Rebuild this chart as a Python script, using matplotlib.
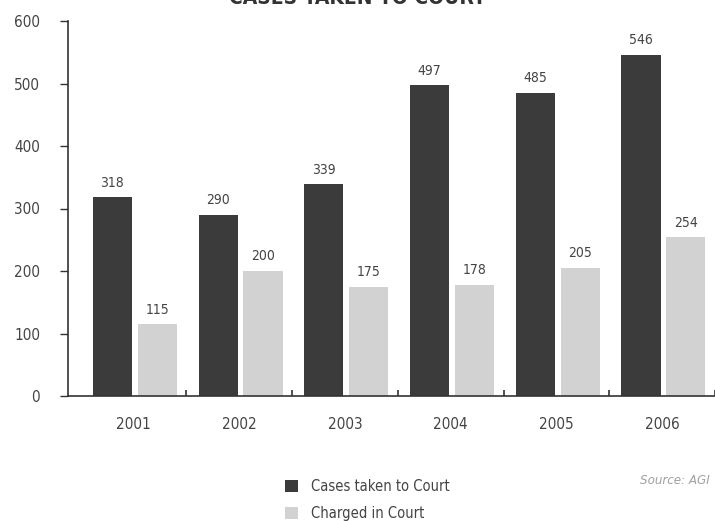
import matplotlib
matplotlib.use("Agg")
import matplotlib.pyplot as plt
from matplotlib import font_manager
import numpy as np

years = ["2001", "2002", "2003", "2004", "2005", "2006"]
taken = [318, 290, 339, 497, 485, 546]
charged = [115, 200, 175, 178, 205, 254]
series_names = ["Cases taken to Court", "Charged in Court"]

names = {f.name for f in font_manager.fontManager.ttflist}
narrow = [n for n in ("Liberation Sans Narrow", "DejaVu Sans") if n in names]
plt.rcParams["font.family"] = narrow + ["DejaVu Sans"]
plt.rcParams["font.stretch"] = "condensed"
print(sorted(n for n in names if "Narrow" in n or "Condensed" in n))
TXT = "#444444"

fig = plt.figure(figsize=(7.15, 5.21), dpi=100)
ax = fig.add_axes([68 / 715, 125 / 521, (715 - 68) / 715, 375 / 521])

x = np.arange(len(years))
w = 0.37
b1 = ax.bar(x - 0.2, taken, w, color="#3b3b3b")
b2 = ax.bar(x + 0.225, charged, w, color="#d2d2d2")

for bars, vals in ((b1, taken), (b2, charged)):
    for r, v in zip(bars, vals):
        ax.text(r.get_x() + r.get_width() / 2, v + 12, str(v),
                ha="center", va="bottom", fontsize=10, color=TXT)

ax.set_xlim(-0.62, 5.5)
ax.set_ylim(0, 600)
ax.set_yticks(range(0, 601, 100))
ax.tick_params(axis="y", direction="out", length=6, width=1, colors="#333333",
               labelcolor=TXT, labelsize=11, pad=14)
# year labels under the groups, small ticks between groups
ax.set_xticks(x + 0.5, minor=False)
ax.set_xticklabels([])
ax.tick_params(axis="x", which="major", direction="in", length=4, width=1.2,
               colors="#333333")
ax.set_xticks(x, minor=True)
ax.set_xticklabels(years, minor=True)
ax.tick_params(axis="x", which="minor", length=0, pad=15, labelsize=11,
               labelcolor=TXT)
for s in ("top", "right"):
    ax.spines[s].set_visible(False)
for s in ("left", "bottom"):
    ax.spines[s].set_color("#333333")
    ax.spines[s].set_linewidth(1.2)

fig.text(0.5, 1 - 4 / 521, "CASES TAKEN TO COURT", ha="center", va="baseline",
         fontsize=15, weight="bold", color="#333333")

fig.legend([b1, b2], series_names, loc="upper left",
           bbox_to_anchor=(272 / 715, 1 - 466 / 521), frameon=False,
           handlelength=0.9, handleheight=0.9, handletextpad=0.9,
           labelspacing=0.8, fontsize=10.5, labelcolor=TXT)
fig.text(710 / 715, 1 - 480 / 521, "Source: AGI", ha="right", va="center",
         fontsize=9.5, color="#a0a0a0", style="italic")

fig.savefig("out.png", dpi=100, facecolor="white")
